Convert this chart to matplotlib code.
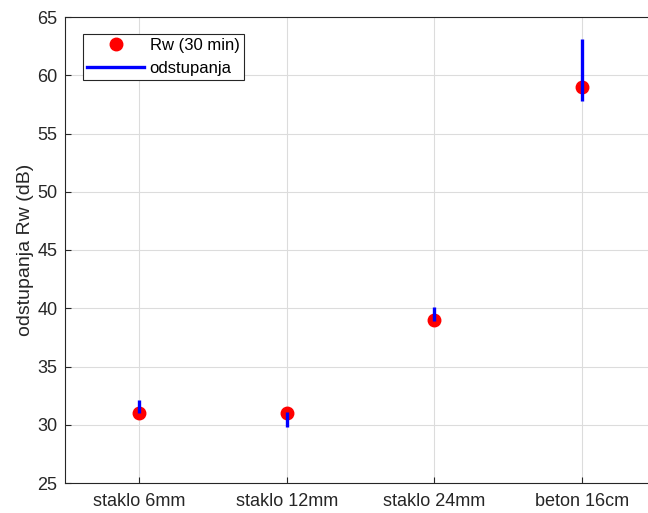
import numpy as np
import matplotlib
matplotlib.use("Agg")
from matplotlib import pyplot as plt

plt.rcParams['font.family'] = ['Liberation Sans', 'DejaVu Sans']

categories = ['staklo 6mm', 'staklo 12mm', 'staklo 24mm', 'beton 16cm']
rw_30min = [31, 31, 39, 59]
dev_low = [31.0, 29.8, 38.9, 57.8]
dev_high = [32.1, 31.1, 40.1, 63.1]

fig = plt.figure(figsize=(6.48, 5.13), dpi=100)
ax = fig.add_axes([65 / 648, 30 / 513, 591 / 648, 466 / 513])

x = np.arange(1, len(categories) + 1)

# deviation bars drawn as vertical segments
ax.vlines(x, dev_low, dev_high, color='#0000ff', linewidth=2.4, zorder=3)
ax.plot(x, rw_30min, 'o', color='#ff0000', markersize=9, zorder=2, label='Rw (30 min)')
ax.plot([], [], color='#0000ff', linewidth=2.4, label='odstupanja')

ax.set_xlim(0.5, 4.5)
ax.set_ylim(25, 65)
ax.set_xticks(x)
ax.set_xticklabels(categories)
ax.set_yticks(np.arange(25, 66, 5))
ax.tick_params(direction='in', length=4, labelsize=13, colors='#262626', width=0.8)
ax.tick_params(axis='x', pad=7)
ax.tick_params(axis='y', pad=5.5)
ax.grid(True, color='#dcdcdc', linewidth=0.8)
ax.set_axisbelow(True)
for s in ax.spines.values():
    s.set_color('#262626')
    s.set_linewidth(0.8)
ax.set_ylabel('odstupanja Rw (dB)', fontsize=14, color='#262626', labelpad=2)

leg = ax.legend(loc='upper left', bbox_to_anchor=(0.0305, 0.9635), fontsize=12,
                frameon=True, fancybox=False, edgecolor='#262626', framealpha=1,
                handlelength=3.4, borderpad=0.25, labelspacing=0.45, handletextpad=0.35,
                borderaxespad=0)
leg.get_frame().set_linewidth(0.8)

plt.savefig('out.png', dpi=100)
